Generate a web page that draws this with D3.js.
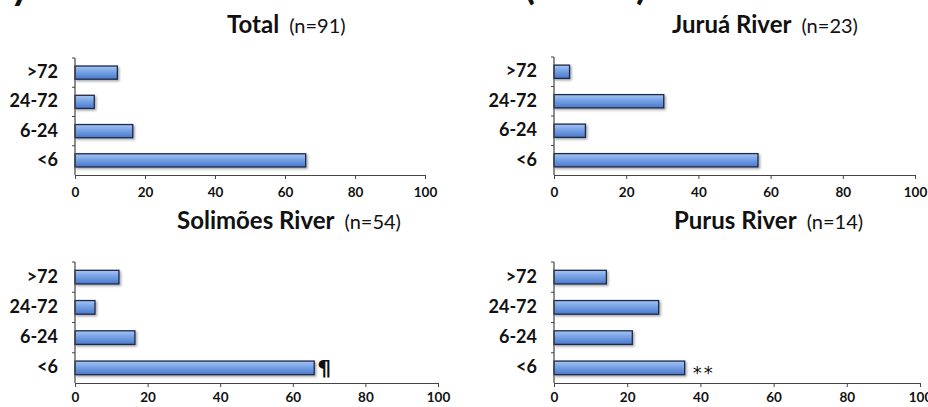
<!DOCTYPE html>
<html>
<head>
<meta charset="utf-8">
<script src="https://cdn.jsdelivr.net/npm/d3@7"></script>
<style>
body { margin: 0; background: #fff; }
svg { display: block; font-family: Lato, "Open Sans", sans-serif; }
</style>
</head>
<body>
<div id="chart"></div>
<script>
// data (percent of patients)
const categories = [">72", "24-72", "6-24", "<6"]
const totalValues = [12.1, 5.5, 16.5, 65.9]
const juruaValues = [4.3, 30.4, 8.7, 56.5]
const solimoesValues = [12.1, 5.5, 16.5, 65.9]
const purusValues = [14.3, 28.6, 21.4, 35.7]
const xTicks = [0, 20, 40, 60, 80, 100]
const panelTitles = ["Total", "Juruá River", "Solimões River", "Purus River"]
const panelCounts = ["(n=91)", "(n=23)", "(n=54)", "(n=14)"]
const panelMarks = ["", "", "¶", "**"]

const width = 928, height = 407

const svg = d3.select("#chart")
	.append("svg")
	.attr("width", width)
	.attr("height", height)

// bar gradient + shadow
const defs = svg.append("defs")
const grad = defs.append("linearGradient")
	.attr("id", "barGrad")
	.attr("x1", 0).attr("y1", 0).attr("x2", 0).attr("y2", 1)
grad.append("stop").attr("offset", "0%").attr("stop-color", "#a8c6f2")
grad.append("stop").attr("offset", "35%").attr("stop-color", "#7fa9e8")
grad.append("stop").attr("offset", "100%").attr("stop-color", "#4a78cc")
const shadow = defs.append("filter").attr("id", "shadow")
	.attr("x", "-10%").attr("y", "-30%").attr("width", "130%").attr("height", "180%")
shadow.append("feDropShadow")
	.attr("dx", 1.5).attr("dy", 1.5).attr("stdDeviation", 1)
	.attr("flood-color", "#000").attr("flood-opacity", 0.35)

// cut off big heading at the very top (only descenders visible, as in the source)
const headingBits = [["y", 10], ["(", 524], [")", 636]]
headingBits.forEach(function(b){
	svg.append("text")
		.attr("x", b[1])
		.attr("y", -1)
		.attr("font-size", 40)
		.attr("font-weight", "bold")
		.attr("fill", "#111")
		.text(b[0])
})

// panel layout
const panels = [
	{values: totalValues,    x0: 75,  x1: 425, yTop: 58,  yBot: 175, titleX: 227, titleY: 33,  tickY: 197},
	{values: juruaValues,    x0: 554, x1: 915, yTop: 57,  yBot: 175, titleX: 672, titleY: 33,  tickY: 197},
	{values: solimoesValues, x0: 75,  x1: 438, yTop: 262, yBot: 383, titleX: 177, titleY: 229, tickY: 402},
	{values: purusValues,    x0: 554, x1: 920, yTop: 262, yBot: 383, titleX: 674, titleY: 229, tickY: 402}
]

function drawPanel(p, i){
	const g = svg.append("g")

	const x = d3.scaleLinear()
		.domain([0, 100])
		.range([p.x0, p.x1])
	const y = d3.scaleBand()
		.domain(categories)
		.range([p.yTop, p.yBot])
		.paddingInner(0.55)
		.paddingOuter(0.275)

	// title
	const t = g.append("text")
		.attr("x", p.titleX)
		.attr("y", p.titleY)
		.attr("fill", "#111")
	t.append("tspan")
		.attr("font-size", 24)
		.attr("font-weight", "bold")
		.text(panelTitles[i])
	t.append("tspan")
		.attr("dx", 10)
		.attr("font-size", 20)
		.text(panelCounts[i])

	// bars
	g.selectAll(".bar")
		.data(p.values)
		.enter()
		.append("rect")
		.attr("class", "bar")
		.attr("x", x(0))
		.attr("y", function(d, j){ return y(categories[j]) })
		.attr("width", function(d){ return x(d) - x(0) })
		.attr("height", y.bandwidth())
		.attr("fill", "url(#barGrad)")
		.attr("stroke", "#1c2a48")
		.attr("stroke-width", 1.3)
		.attr("filter", "url(#shadow)")

	// x axis
	const xAxis = g.append("g")
		.attr("transform", "translate(0," + p.yBot + ")")
		.call(d3.axisBottom(x).tickValues(xTicks).tickSize(4).tickSizeOuter(0))
	xAxis.select(".domain").attr("stroke", "#444").attr("stroke-width", 1.2)
	xAxis.selectAll(".tick line").attr("stroke", "#444")
	xAxis.selectAll(".tick text")
		.attr("y", p.tickY - p.yBot - 10)
		.attr("font-family", "Lato, sans-serif")
		.attr("font-size", 13.5)
		.attr("font-weight", "bold")
		.attr("fill", "#111")

	// y axis line with ticks at band boundaries
	g.append("line")
		.attr("x1", x(0)).attr("x2", x(0))
		.attr("y1", p.yTop).attr("y2", p.yBot)
		.attr("stroke", "#444")
		.attr("stroke-width", 1.2)
	const step = y.step()
	g.selectAll(".ytick")
		.data(d3.range(categories.length))
		.enter()
		.append("line")
		.attr("x1", x(0) - 3).attr("x2", x(0))
		.attr("y1", function(j){ return p.yTop + j * step })
		.attr("y2", function(j){ return p.yTop + j * step })
		.attr("stroke", "#444")

	// category labels
	g.selectAll(".ylab")
		.data(categories)
		.enter()
		.append("text")
		.attr("x", x(0) - 17)
		.attr("y", function(d){ return y(d) + y.bandwidth() / 2 + 1 })
		.attr("text-anchor", "end")
		.attr("dominant-baseline", "middle")
		.attr("font-size", 18)
		.attr("font-weight", "bold")
		.attr("fill", "#111")
		.text(function(d){ return d })

	// significance mark after the <6 bar
	if (panelMarks[i]){
		const last = categories[categories.length - 1]
		const pilcrow = panelMarks[i] == "¶"
		g.append("text")
			.attr("x", x(p.values[p.values.length - 1]) + (pilcrow ? 3 : 8))
			.attr("y", y(last) + y.bandwidth() / 2 + (pilcrow ? 8 : 11))
			.attr("font-family", "DejaVu Sans, sans-serif")
			.attr("font-size", pilcrow ? 22 : 18)
			.attr("font-weight", pilcrow ? "bold" : "normal")
			.attr("letter-spacing", pilcrow ? 0 : 2)
			.attr("fill", "#111")
			.text(panelMarks[i])
	}
}

panels.forEach(drawPanel)
</script>
</body>
</html>
